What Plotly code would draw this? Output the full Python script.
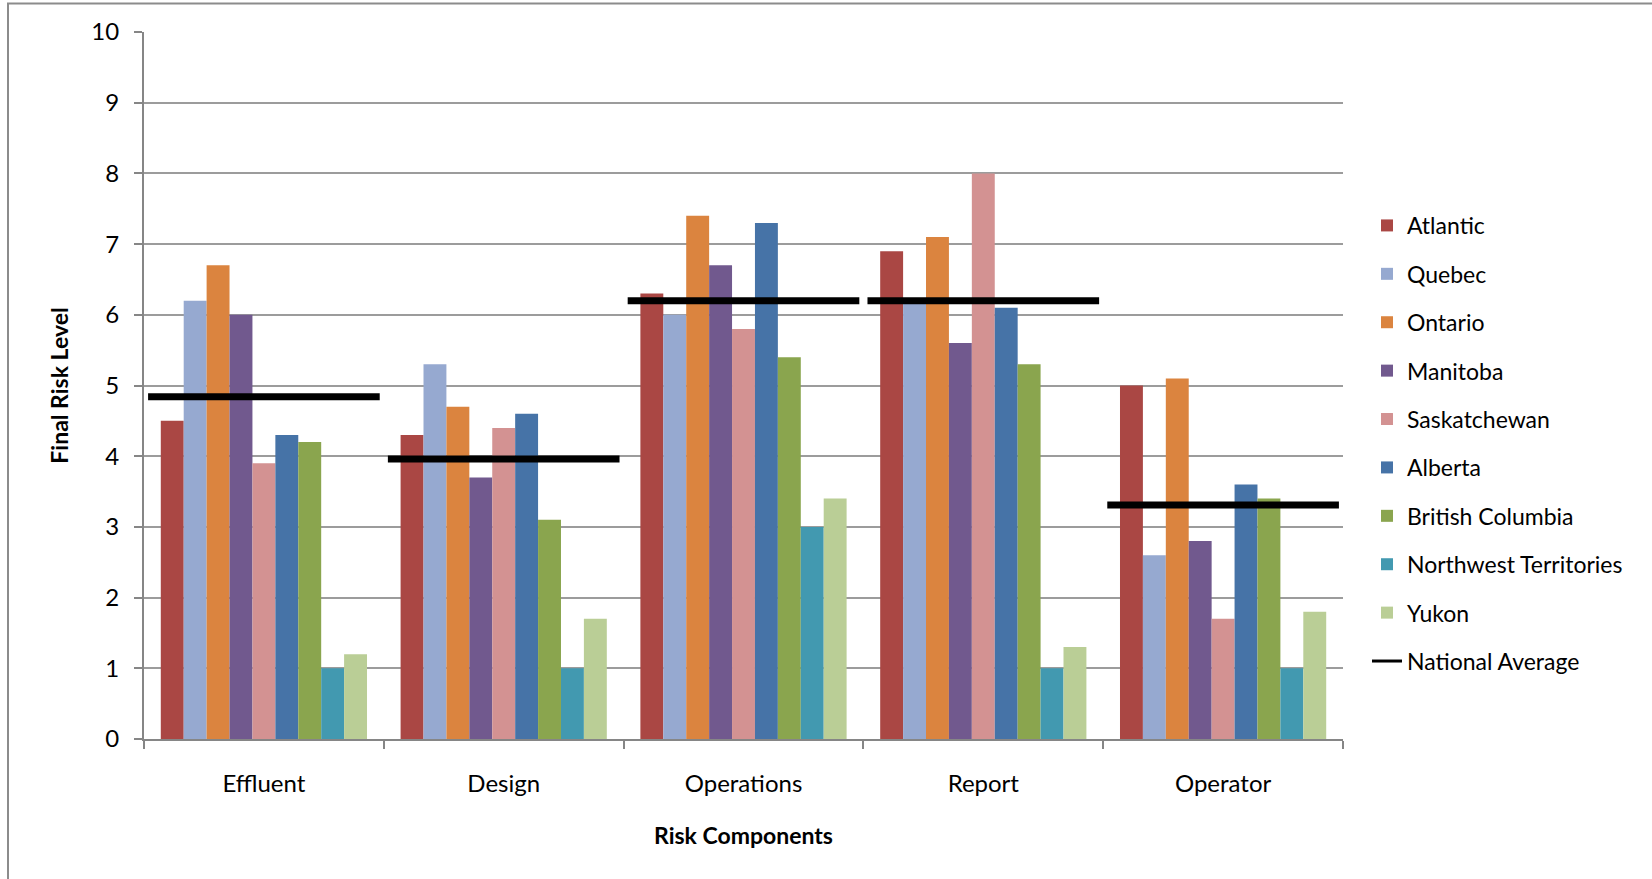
import plotly.graph_objects as go

# Risk components (categories on the x axis)
components = ["Effluent", "Design", "Operations", "Report", "Operator"]

# Final risk level per region, one list per region
regions = [
    "Atlantic", "Quebec", "Ontario", "Manitoba", "Saskatchewan",
    "Alberta", "British Columbia", "Northwest Territories", "Yukon",
]
atlantic = [4.5, 4.3, 6.3, 6.9, 5.0]
quebec = [6.2, 5.3, 6.0, 6.2, 2.6]
ontario = [6.7, 4.7, 7.4, 7.1, 5.1]
manitoba = [6.0, 3.7, 6.7, 5.6, 2.8]
saskatchewan = [3.9, 4.4, 5.8, 8.0, 1.7]
alberta = [4.3, 4.6, 7.3, 6.1, 3.6]
british_columbia = [4.2, 3.1, 5.4, 5.3, 3.4]
northwest_territories = [1.0, 1.0, 3.0, 1.0, 1.0]
yukon = [1.2, 1.7, 3.4, 1.3, 1.8]

national_average = [4.84, 3.96, 6.2, 6.2, 3.31]

y_ticks = list(range(0, 11))

series = [atlantic, quebec, ontario, manitoba, saskatchewan,
          alberta, british_columbia, northwest_territories, yukon]
colors = ["#AA4744", "#96A9D0", "#DB843F", "#71598E", "#D39292",
          "#4673A7", "#8AA54E", "#4299B0", "#BACE96"]

FONT = "Lato, 'Open Sans', sans-serif"
AXIS_GRAY = "#868686"
AVG_HALF_WIDTH = 0.483  # half-length of each national-average segment, in category units

fig = go.Figure()

for name, vals, col in zip(regions, series, colors):
    fig.add_trace(go.Bar(
        x=components, y=vals, name=name,
        marker=dict(color=col, line=dict(width=0)),
        legendgroup=name,
    ))

# National average: one horizontal segment per component, on an overlaid numeric axis
seg_x, seg_y = [], []
for i, v in enumerate(national_average):
    seg_x += [i - AVG_HALF_WIDTH, i + AVG_HALF_WIDTH, None]
    seg_y += [v, v, None]
fig.add_trace(go.Scatter(
    x=seg_x, y=seg_y, xaxis="x2", mode="lines",
    line=dict(color="black", width=7),
    showlegend=False, cliponaxis=False, hoverinfo="skip",
))
# legend key for the national average
fig.add_trace(go.Scatter(
    x=[None], y=[None], xaxis="x2", mode="lines",
    line=dict(color="black", width=3),
    name="National Average", legendgroup="National Average",
))

fig.update_layout(
    width=1652, height=879,
    margin=dict(l=144, r=309, t=32, b=140),
    paper_bgcolor="white", plot_bgcolor="white",
    font=dict(family=FONT, size=24, color="black"),
    barmode="group", bargap=0.14, bargroupgap=0,
    showlegend=True,
    legend=dict(
        x=1.02, xanchor="left", y=0.418, yanchor="middle",
        traceorder="grouped", tracegroupgap=15.5,
        font=dict(family=FONT, size=23, color="black"),
        bgcolor="rgba(0,0,0,0)",
    ),
    xaxis=dict(
        type="category", range=[-0.5, 4.5],
        showline=True, linecolor=AXIS_GRAY, linewidth=2,
        ticks="outside", tickson="boundaries", ticklen=8,
        tickcolor=AXIS_GRAY, tickwidth=2,
        showgrid=False, ticklabelstandoff=22,
        tickfont=dict(family=FONT, size=24, color="black"),
        title=dict(text="<b>Risk Components</b>", standoff=32,
                   font=dict(family=FONT, size=23, color="black")),
    ),
    xaxis2=dict(
        overlaying="x", range=[-0.5, 4.5], visible=False,
    ),
    yaxis=dict(
        range=[0, 10], tickvals=y_ticks,
        showline=True, linecolor=AXIS_GRAY, linewidth=2,
        ticks="outside", ticklen=8, tickcolor=AXIS_GRAY, tickwidth=2,
        showgrid=True, gridcolor="#9c9c9c", gridwidth=1.5,
        zeroline=False, ticklabelstandoff=10,
        tickfont=dict(family=FONT, size=24, color="black"),
        title=dict(text="<b>Final Risk Level</b>", standoff=16,
                   font=dict(family=FONT, size=23, color="black")),
    ),
    shapes=[dict(
        type="rect", xref="paper", yref="paper",
        x0=(8 - 144) / 1199, x1=(1700 - 144) / 1199,
        y0=(739 - 900) / 707, y1=(739 - 3.5) / 707,
        line=dict(color="#8c8c8c", width=2), fillcolor="rgba(0,0,0,0)",
        layer="below",
    )],
)

fig.write_html("out.html")
